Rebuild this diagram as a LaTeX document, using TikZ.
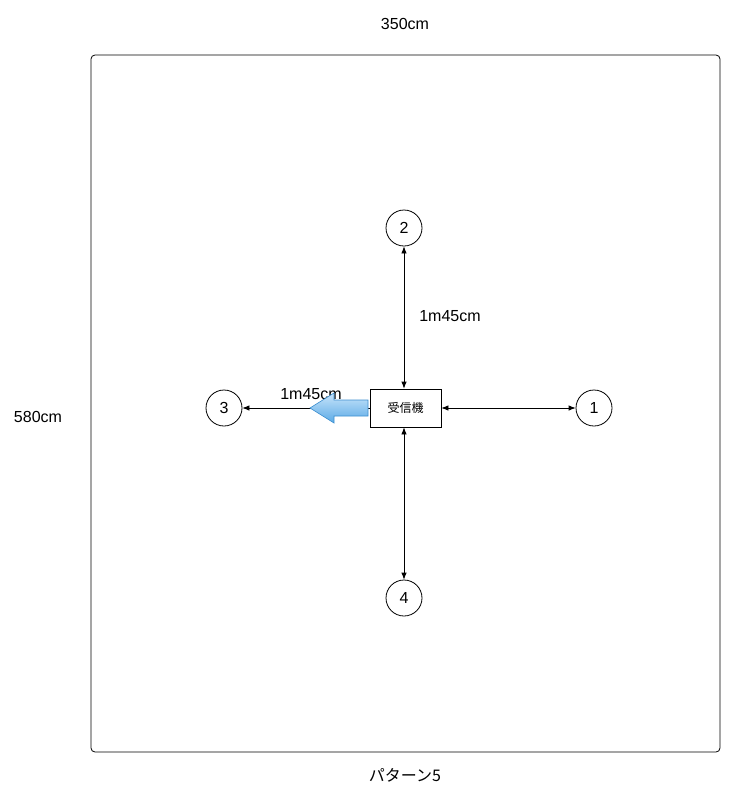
\documentclass[tikz,border=0pt]{standalone}
\usepackage{fontspec}
\setmainfont{Liberation Sans}
\newfontfamily\cjk{Noto Sans CJK JP}
\usetikzlibrary{arrows.meta}
\definecolor{arrowlight}{HTML}{C8E4FA}
\definecolor{arrowdark}{HTML}{5AAAE6}
\definecolor{arrowline}{HTML}{3D8FD0}
\begin{document}
\begin{tikzpicture}[x=1pt,y=-1pt,
  lbl/.style={font=\fontsize{16}{18}\selectfont, inner sep=0pt},
  spot/.style={circle, draw, line width=0.8pt, minimum size=36pt, inner sep=0pt, font=\fontsize{16}{18}\selectfont},
  rx/.style={rectangle, draw, line width=0.8pt, minimum width=71pt, minimum height=38pt, inner sep=0pt, font=\cjk\fontsize{12}{14}\selectfont},
  link/.style={line width=0.8pt, {Latex[length=7pt,width=5.5pt]}-{Latex[length=7pt,width=5.5pt]}},
  onelink/.style={line width=0.8pt, -{Latex[length=7pt,width=5.5pt]}}]
\useasboundingbox (0,0) rectangle (731,807);
\fill[white] (0,0) rectangle (731,807);
\draw[line width=0.8pt, rounded corners=4pt] (91,55) rectangle (720,752);
\node[lbl] (w) at (405,24) {350cm};
\node[lbl] (h) at (38,417) {580cm};
\node[lbl, font=\cjk\fontsize{16}{18}\selectfont] (title) at (405,775) {パターン5};
\node[rx] (r) at (405.5,408) {受信機};
\node[spot] (p1) at (594,408) {1};
\node[spot] (p2) at (404,228) {2};
\node[spot] (p3) at (224,408) {3};
\node[spot] (p4) at (404,598) {4};
\draw[link] (p2.south) -- (p2.south |- r.north);
\draw[link] (p4.north) -- (p4.north |- r.south);
\draw[link] (r.east) -- (p1.west);
\draw[onelink] (r.west) -- (p3.east);
\node[lbl] (d2) at (450,316) {1m45cm};
\node[lbl] (d3) at (311,394) {1m45cm};
\draw[line width=0.6pt, draw=arrowline, top color=arrowlight, bottom color=arrowdark]
  (368,400) -- (334,400) -- (334,393) -- (310,408) -- (334,423) -- (334,416) -- (368,416) -- cycle;
\end{tikzpicture}
\end{document}
